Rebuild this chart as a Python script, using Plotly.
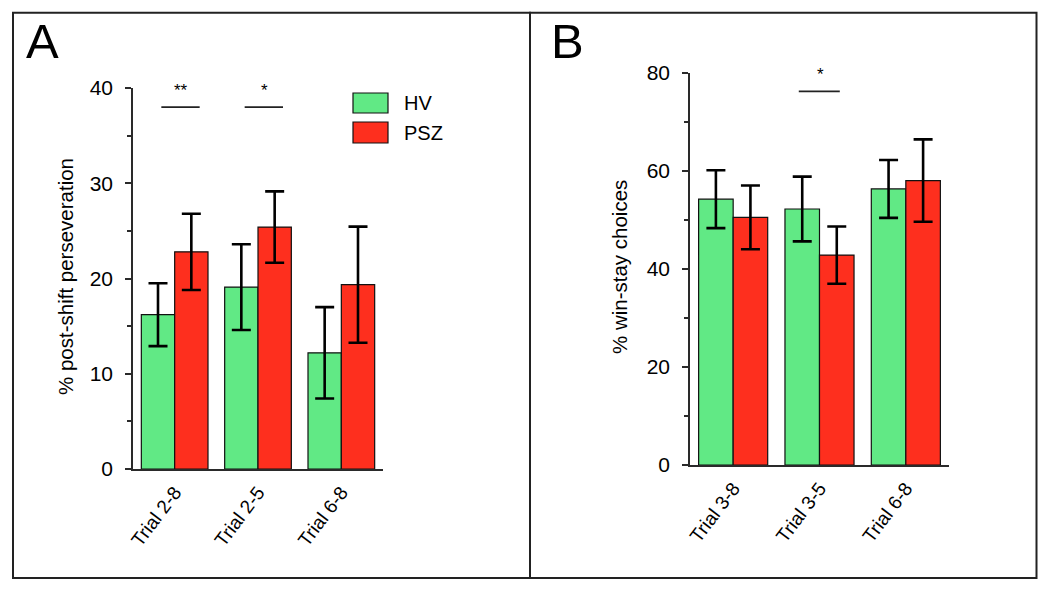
import plotly.graph_objects as go

# ---------------- data ----------------
categories_A = ["Trial 2-8", "Trial 2-5", "Trial 6-8"]
hv_A = [16.2, 19.1, 12.2]
hv_A_err = [3.3, 4.5, 4.8]
psz_A = [22.8, 25.4, 19.35]
psz_A_err = [4.0, 3.75, 6.1]
sig_A = ["**", "*", ""]

categories_B = ["Trial 3-8", "Trial 3-5", "Trial 6-8"]
hv_B = [54.2, 52.2, 56.3]
hv_B_err = [5.9, 6.6, 5.9]
psz_B = [50.5, 42.8, 58.0]
psz_B_err = [6.5, 5.85, 8.4]
sig_B = ["", "*", ""]

groups = ["HV", "PSZ"]
yticks_A = [0, 10, 20, 30, 40]
yticks_B = [0, 20, 40, 60, 80]

# ---------------- style ----------------
W, H = 1050, 591
OFF = 8  # page offset of the figure in the browser
GREEN = "#61E985"
RED = "#FE2F1E"
FONT = "Arial, Liberation Sans, Helvetica, sans-serif"
AXC = "#2a2a2a"


def px(x):
    return (x - OFF) / W


def py(y):
    return 1 - (y - OFF) / H


fig = go.Figure()


def add_bars(cats, hv, hv_e, psz, psz_e, xa, ya):
    for name, vals, errs, col in [("HV", hv, hv_e, GREEN), ("PSZ", psz, psz_e, RED)]:
        fig.add_trace(go.Bar(
            x=cats, y=vals, name=name, xaxis=xa, yaxis=ya,
            marker=dict(color=col, line=dict(color="#111", width=1.2)),
            error_y=dict(type="data", array=errs, visible=True,
                         color="#000", thickness=2.6, width=9.5),
            showlegend=False,
        ))


add_bars(categories_A, hv_A, hv_A_err, psz_A, psz_A_err, "x", "y")
add_bars(categories_B, hv_B, hv_B_err, psz_B, psz_B_err, "x2", "y2")

axis_common = dict(
    showgrid=False, zeroline=False, showline=True, linecolor=AXC, linewidth=1.5,
    automargin=False,
)
xax = dict(range=[-0.5, 2.5], tickangle=-53, tickfont=dict(size=19), ticks="",
           ticklabelstandoff=3, **axis_common)
yax = dict(ticks="outside", ticklen=6, tickwidth=1.5, tickcolor=AXC,
           tickfont=dict(size=21), ticklabelstandoff=8, **axis_common)

fig.update_layout(
    width=W, height=H,
    margin=dict(l=0, r=0, t=0, b=0, autoexpand=False),
    paper_bgcolor="white", plot_bgcolor="white",
    barmode="group", bargap=0.2, bargroupgap=0,
    font=dict(family=FONT, color="#000"),
    showlegend=False,
    xaxis=dict(domain=[px(133), px(383)], anchor="y", **xax),
    yaxis=dict(domain=[py(469), py(88)], anchor="x", range=[0, 40],
               tickvals=yticks_A,
               minor=dict(dtick=5, ticks="outside", ticklen=4, tickcolor=AXC),
               **yax),
    xaxis2=dict(domain=[px(690), px(949)], anchor="y2", **xax),
    yaxis2=dict(domain=[py(465), py(72.7)], anchor="x2", range=[0, 80],
                tickvals=yticks_B,
                minor=dict(dtick=10, ticks="outside", ticklen=4, tickcolor=AXC),
                **yax),
)

shapes = []
annotations = []

# panel frames
shapes.append(dict(type="rect", xref="paper", yref="paper",
                   x0=px(13), x1=px(530), y0=py(578), y1=py(12.7),
                   line=dict(color="#222", width=2)))
shapes.append(dict(type="rect", xref="paper", yref="paper",
                   x0=px(530), x1=px(1036.5), y0=py(578), y1=py(12.7),
                   line=dict(color="#222", width=2)))

# significance markers
for i, s in enumerate(sig_A):
    if s:
        shapes.append(dict(type="line", xref="x", yref="y", x0=i - 0.16, x1=i + 0.3,
                           y0=38.0, y1=38.0, line=dict(color="#222", width=1.8)))
        annotations.append(dict(x=i + 0.08, y=38.0, xref="x", yref="y", text=s,
                                showarrow=False, yanchor="middle", yshift=17,
                                font=dict(size=17)))
for i, s in enumerate(sig_B):
    if s:
        shapes.append(dict(type="line", xref="x2", yref="y2", x0=i - 0.24, x1=i + 0.235,
                           y0=76.2, y1=76.2, line=dict(color="#222", width=1.8)))
        annotations.append(dict(x=i + 0.015, y=76.2, xref="x2", yref="y2", text=s,
                                showarrow=False, yanchor="middle", yshift=17,
                                font=dict(size=17)))

# legend (panel A)
leg_cols = [GREEN, RED]
leg_y = [(93, 113), (122, 143)]
for g, col, (ya, yb) in zip(groups, leg_cols, leg_y):
    shapes.append(dict(type="rect", xref="paper", yref="paper",
                       x0=px(353), x1=px(388), y0=py(yb), y1=py(ya),
                       fillcolor=col, line=dict(color="#111", width=1.2)))
    annotations.append(dict(x=px(402), y=py((ya + yb) / 2), xref="paper", yref="paper",
                            text=g, showarrow=False, xanchor="left", yanchor="middle",
                            font=dict(size=20)))

# panel letters
annotations.append(dict(x=px(24), y=py(41), xref="paper", yref="paper", text="A",
                        showarrow=False, xanchor="left", yanchor="middle",
                        font=dict(size=49)))
annotations.append(dict(x=px(549), y=py(41), xref="paper", yref="paper", text="B",
                        showarrow=False, xanchor="left", yanchor="middle",
                        font=dict(size=49)))

# y-axis titles
annotations.append(dict(x=px(65), y=py(277), xref="paper", yref="paper",
                        text="% post-shift perseveration", textangle=-90,
                        showarrow=False, xanchor="center", yanchor="middle",
                        font=dict(size=20.5)))
annotations.append(dict(x=px(620), y=py(267), xref="paper", yref="paper",
                        text="% win-stay choices", textangle=-90,
                        showarrow=False, xanchor="center", yanchor="middle",
                        font=dict(size=20.5)))

fig.update_layout(shapes=shapes, annotations=annotations)

fig.write_html("out.html")
